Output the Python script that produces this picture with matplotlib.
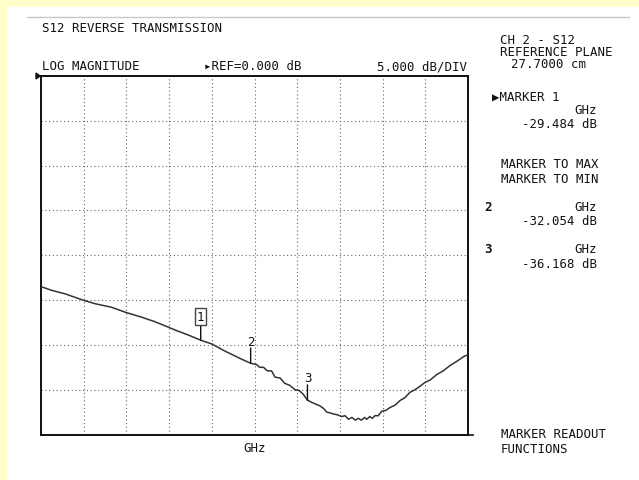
import matplotlib
matplotlib.use("Agg")
import matplotlib.pyplot as plt
from matplotlib.patches import Rectangle, Polygon
from matplotlib.lines import Line2D

# ---- data (x in graticule divisions, y in dB) ----
trace_x = [0.00, 0.24, 0.56, 0.98, 1.26, 1.65, 2.00, 2.35, 2.66, 2.97, 3.17,
           3.45, 3.74, 4.00, 4.31, 4.70, 4.91, 5.05, 5.12, 5.21, 5.30, 5.40,
           5.48, 5.60, 5.71, 5.82, 5.95, 6.05, 6.14, 6.24, 6.38, 6.53, 6.62,
           6.69, 6.78, 6.84, 6.94, 7.04, 7.12, 7.20, 7.28, 7.36, 7.43, 7.50,
           7.58, 7.63, 7.70, 7.76, 7.82, 7.90, 7.98, 8.08, 8.17, 8.30, 8.41,
           8.52, 8.64, 8.76, 8.88, 8.99, 9.12, 9.27, 9.42, 9.58, 9.75, 9.90,
           10.00]
trace_db = [-23.5, -23.9, -24.3, -25.0, -25.4, -25.8, -26.4, -26.9, -27.4, -28.0, -28.4,
            -28.9, -29.48, -29.9, -30.7, -31.6, -32.05, -32.2, -32.5, -32.5, -32.9, -32.9,
            -33.6, -33.7, -34.3, -34.5, -35.0, -35.1, -35.5, -36.17, -36.5, -36.8, -37.1,
            -37.5, -37.6, -37.7, -37.8, -38.0, -37.9, -38.3, -38.1, -38.4, -38.2, -38.4,
            -38.1, -38.3, -38.0, -38.2, -37.9, -37.9, -37.4, -37.3, -37.0, -36.7, -36.2,
            -35.9, -35.3, -35.0, -34.6, -34.2, -33.9, -33.3, -32.9, -32.3, -31.8, -31.3,
            -31.1]

marker_ids = ["1", "2", "3"]
marker_x = [3.74, 4.91, 6.24]
marker_db = [-29.484, -32.054, -36.168]

ref_db = 0.0
db_per_div = 5.0
n_xdiv = 10
n_ydiv = 8

# ---- figure ----
W, H = 639, 481
fig = plt.figure(figsize=(W / 100, H / 100), dpi=100)
fig.patch.set_facecolor("#FFFFCC")
fig.add_artist(Rectangle((7 / W, 0), 1 - 7 / W, 1 - 8 / H, transform=fig.transFigure,
                         facecolor="white", edgecolor="none", zorder=0))
fig.add_artist(Line2D([27 / W, 629 / W], [1 - 18 / H, 1 - 18 / H], transform=fig.transFigure,
                      color="#c8c8c8", lw=1.0))

FONT = "DejaVu Sans Mono"
FS = 8.9


def ftext(x, y, s, ha="left", **kw):
    fig.text(x / W, 1 - y / H, s, ha=ha, va="center", family=FONT, fontsize=FS,
             color="#111111", **kw)


L, R, T, B = 41, 468, 77, 435.5
ax = fig.add_axes([L / W, 1 - B / H, (R - L) / W, (B - T) / H])
ax.set_xlim(0, n_xdiv)
ax.set_ylim(ref_db - n_ydiv * db_per_div, ref_db)
ax.set_xticks(range(0, n_xdiv + 1))
ax.set_yticks([ref_db - k * db_per_div for k in range(n_ydiv + 1)])
ax.tick_params(left=False, bottom=False, labelleft=False, labelbottom=False)
ax.grid(True, color="#666666", linestyle=(0, (1, 2.4)), linewidth=0.8)
for s in ax.spines.values():
    s.set_linewidth(1.4)
    s.set_color("#111111")

ax.plot(trace_x, trace_db, color="#333333", lw=1.1, zorder=3)

# markers
for mid, mx, md in zip(marker_ids, marker_x, marker_db):
    ax.annotate("", xy=(mx, md), xytext=(0, 11), textcoords="offset points",
                arrowprops=dict(arrowstyle="-", color="#111111", lw=1.0,
                                shrinkA=0, shrinkB=0))
    if mid == "1":
        ax.annotate(mid, xy=(mx, md), xytext=(0, 17), textcoords="offset points",
                    ha="center", va="center", family=FONT, fontsize=FS, color="#111111",
                    bbox=dict(boxstyle="square,pad=0.15", fc="white", ec="#444444", lw=1.0))
    else:
        ax.annotate(mid, xy=(mx, md), xytext=(0, 16), textcoords="offset points",
                    ha="center", va="center", family=FONT, fontsize=FS, color="#111111")

# reference arrow at left of the graticule
fig.add_artist(Polygon([(36 / W, 1 - 74 / H), (36 / W, 1 - 80 / H), (40 / W, 1 - 77 / H)],
                       closed=True, transform=fig.transFigure, color="#111111"))
# little tick at bottom right
fig.add_artist(Line2D([R / W, 473 / W], [1 - B / H, 1 - B / H], transform=fig.transFigure,
                      color="#111111", lw=1.2))

# ---- header texts ----
ftext(42, 29, "S12 REVERSE TRANSMISSION")
ftext(42, 66.5, "LOG MAGNITUDE")
ftext(204, 66.5, "\u25B8REF=0.000 dB")
ftext(467, 66.5, "5.000 dB/DIV", ha="right")
ftext(254.5, 448, "GHz", ha="center")

# ---- right panel ----
ftext(500, 41, "CH 2 - S12")
ftext(500, 53, "REFERENCE PLANE")
ftext(511, 65, "27.7000 cm")
ftext(492, 97, "\u25B6MARKER 1")
ftext(597, 110, "GHz", ha="right")
ftext(597, 124, "-29.484 dB", ha="right")
ftext(501, 165, "MARKER TO MAX")
ftext(501, 179.5, "MARKER TO MIN")
ftext(484, 207.5, "2", fontweight="bold")
ftext(597, 207.5, "GHz", ha="right")
ftext(597, 221.5, "-32.054 dB", ha="right")
ftext(484, 250, "3", fontweight="bold")
ftext(597, 250, "GHz", ha="right")
ftext(597, 264.5, "-36.168 dB", ha="right")
ftext(501, 434, "MARKER READOUT")
ftext(501, 449.5, "FUNCTIONS")

fig.savefig("out.png", dpi=100, facecolor=fig.get_facecolor())
